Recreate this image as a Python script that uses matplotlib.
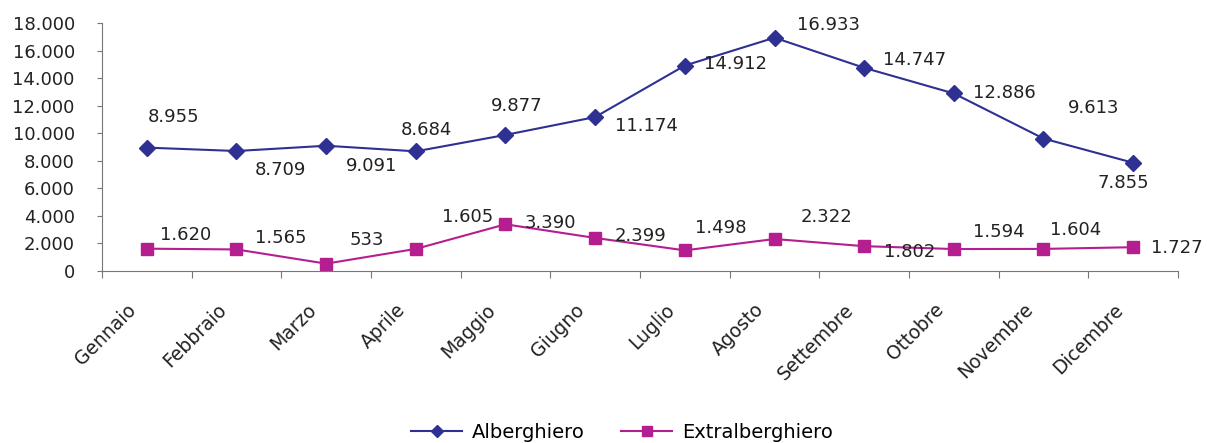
import matplotlib
matplotlib.use("Agg")
import matplotlib.pyplot as plt
from matplotlib.ticker import FuncFormatter, FixedLocator
from matplotlib.transforms import ScaledTranslation

mesi = ['Gennaio', 'Febbraio', 'Marzo', 'Aprile', 'Maggio', 'Giugno',
        'Luglio', 'Agosto', 'Settembre', 'Ottobre', 'Novembre', 'Dicembre']
alberghiero = [8955, 8709, 9091, 8684, 9877, 11174, 14912, 16933, 14747, 12886, 9613, 7855]
extralberghiero = [1620, 1565, 533, 1605, 3390, 2399, 1498, 2322, 1802, 1594, 1604, 1727]

# label offsets (pixels) for the data labels
off_alb = [(27, 31), (44, -19), (45, -20), (11, 21), (11, 29), (51, -9),
           (51, 2), (54, 13), (50, 8), (51, 0), (50, 31), (-10, -20)]
off_ext = [(39, 14), (44, 11), (41, 24), (52, 32), (45, 1), (45, 2),
           (36, 22), (52, 22), (45, -6), (45, 17), (32, 19), (44, -1)]

c_alb = '#2E3092'
c_ext = '#B41E8E'

def fmt(v):
    return f"{v:,.0f}".replace(',', '.')

plt.rcParams['font.family'] = ['DejaVu Sans']

fig = plt.figure(figsize=(12.07, 4.43), dpi=100)
ax = fig.add_axes([102/1207, 1 - 271/443, (1178 - 102)/1207, (271 - 23)/443])

x = list(range(len(mesi)))
ax.plot(x, alberghiero, color=c_alb, marker='D', markersize=8, lw=1.5, label='Alberghiero')
ax.plot(x, extralberghiero, color=c_ext, marker='s', markersize=9, lw=1.5, label='Extralberghiero')

for i, v in enumerate(alberghiero):
    ax.annotate(fmt(v), (i, v), xytext=off_alb[i], textcoords='offset pixels',
                ha='center', va='center', fontsize=13, color='#222222')
for i, v in enumerate(extralberghiero):
    ax.annotate(fmt(v), (i, v), xytext=off_ext[i], textcoords='offset pixels',
                ha='center', va='center', fontsize=13, color='#222222')

ax.set_xlim(-0.5, len(mesi) - 0.5)
ax.set_ylim(0, 18000)
ax.set_yticks(range(0, 18001, 2000))
ax.yaxis.set_major_formatter(FuncFormatter(lambda v, p: fmt(v)))
ax.tick_params(axis='y', labelsize=13, length=3.6, pad=16, color='#777777', labelcolor='#222222')

ax.xaxis.set_major_locator(FixedLocator([i - 0.5 for i in range(len(mesi) + 1)]))
ax.xaxis.set_minor_locator(FixedLocator(x))
ax.set_xticklabels([], minor=False)
ax.set_xticklabels(mesi, minor=True, rotation=45, ha='right', rotation_mode='anchor', fontsize=13.5)
ax.tick_params(axis='x', which='major', length=5, color='#777777')
ax.tick_params(axis='x', which='minor', length=0, pad=18, labelcolor='#222222')
shift = ScaledTranslation(-0.20, -0.04, fig.dpi_scale_trans)
for lbl in ax.xaxis.get_minorticklabels():
    lbl.set_transform(lbl.get_transform() + shift)

for s in ['top', 'right']:
    ax.spines[s].set_visible(False)
for s in ['left', 'bottom']:
    ax.spines[s].set_color('#777777')

fig.legend(loc='center', bbox_to_anchor=(622/1207, 1 - 432/443), ncol=2, frameon=False,
           handlelength=2.6, columnspacing=1.9, handletextpad=0.5, markerscale=0.8,
           prop={'family': 'DejaVu Sans', 'size': 14})

fig.savefig('out.png', dpi=100)
